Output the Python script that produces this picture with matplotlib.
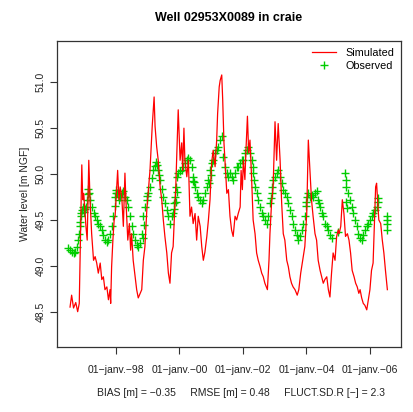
import datetime as dt
import matplotlib
matplotlib.use("Agg")
import matplotlib.pyplot as plt

plt.rcParams['font.family'] = ['Liberation Sans', 'DejaVu Sans']

title = "Well 02953X0089 in craie"
ylabel = "Water level [m NGF]"
stats_text = "BIAS [m] = \u22120.35     RMSE [m] = 0.48     FLUCT.SD.R [\u2212] = 2.3"
legend_labels = ["Simulated", "Observed"]

# Simulated series (decimal year, level m NGF)
sim_t = [1996.55, 1996.60, 1996.66, 1996.73, 1996.79, 1996.84, 1996.92, 1996.95, 1996.98, 1997.05,
         1997.09, 1997.14, 1997.18, 1997.23, 1997.29, 1997.34, 1997.39, 1997.44, 1997.50, 1997.55,
         1997.60, 1997.65, 1997.71, 1997.76, 1997.81, 1997.83, 1997.86, 1997.90, 1997.94, 1997.97,
         1998.00, 1998.05, 1998.09, 1998.13, 1998.18, 1998.23, 1998.28, 1998.31, 1998.37, 1998.42,
         1998.46, 1998.49, 1998.54, 1998.60, 1998.65, 1998.70, 1998.76, 1998.81, 1998.86, 1998.91,
         1998.97, 1999.02, 1999.07, 1999.14, 1999.20, 1999.23, 1999.28, 1999.33, 1999.39, 1999.44,
         1999.49, 1999.54, 1999.60, 1999.65, 1999.70, 1999.75, 1999.80, 1999.84, 1999.88, 1999.91,
         1999.96, 2000.02, 2000.07, 2000.10, 2000.14, 2000.17, 2000.23, 2000.28, 2000.33, 2000.38,
         2000.43, 2000.49, 2000.54, 2000.59, 2000.65, 2000.70, 2000.75, 2000.80, 2000.86, 2000.91,
         2000.96, 2001.01, 2001.06, 2001.12, 2001.17, 2001.20, 2001.25, 2001.28, 2001.33, 2001.36,
         2001.40, 2001.43, 2001.49, 2001.54, 2001.59, 2001.64, 2001.69, 2001.75, 2001.80, 2001.85,
         2001.91, 2001.94, 2001.98, 2002.01, 2002.06, 2002.09, 2002.14, 2002.18, 2002.22, 2002.27,
         2002.32, 2002.38, 2002.43, 2002.48, 2002.54, 2002.59, 2002.64, 2002.69, 2002.77, 2002.82,
         2002.85, 2002.90, 2002.95, 2003.01, 2003.06, 2003.11, 2003.17, 2003.22, 2003.27, 2003.32,
         2003.38, 2003.43, 2003.48, 2003.53, 2003.58, 2003.64, 2003.71, 2003.76, 2003.82, 2003.87,
         2003.92, 2003.95, 2004.01, 2004.06, 2004.11, 2004.16, 2004.21, 2004.27, 2004.32, 2004.37,
         2004.43, 2004.48, 2004.53, 2004.58, 2004.64, 2004.69, 2004.74, 2004.79, 2004.84, 2004.90,
         2004.95, 2005.00, 2005.03, 2005.08, 2005.13, 2005.18, 2005.23, 2005.29, 2005.34, 2005.39,
         2005.44, 2005.50, 2005.55, 2005.60, 2005.65, 2005.69, 2005.74, 2005.79, 2005.84, 2005.90,
         2005.95, 2006.00, 2006.05, 2006.10, 2006.13, 2006.18, 2006.21, 2006.24, 2006.28, 2006.34,
         2006.39, 2006.44, 2006.49, 2006.55]
sim_v = [48.55, 48.68, 48.54, 48.60, 48.50, 48.59, 50.10, 49.72, 49.79, 49.43,
         49.28, 50.15, 49.72, 49.35, 49.06, 49.10, 49.03, 48.92, 49.03, 48.85,
         48.88, 48.74, 48.77, 48.63, 48.74, 48.59, 48.99, 49.28, 49.50, 49.54,
         49.72, 50.04, 49.72, 49.86, 49.75, 49.43, 50.01, 49.72, 49.28, 49.46,
         49.17, 49.35, 49.06, 48.88, 48.74, 48.65, 48.70, 48.74, 49.06, 49.21,
         49.61, 49.83, 50.04, 50.52, 50.84, 50.52, 50.30, 50.15, 49.86, 49.72,
         49.50, 49.32, 49.14, 48.92, 48.81, 49.14, 49.21, 49.54, 49.83, 50.15,
         50.70, 50.15, 50.34, 50.04, 50.50, 50.15, 49.97, 50.15, 49.54, 49.64,
         49.46, 49.57, 49.28, 49.54, 49.43, 49.21, 49.06, 49.15, 49.32, 49.50,
         49.72, 50.12, 50.26, 50.08, 50.37, 50.66, 50.95, 51.02, 51.08, 50.81,
         50.34, 50.15, 49.79, 49.83, 49.54, 49.39, 49.32, 49.54, 49.50, 49.57,
         49.64, 50.04, 49.83, 50.15, 49.94, 50.23, 50.63, 50.23, 50.37, 49.97,
         49.50, 49.35, 49.14, 49.06, 48.99, 48.92, 48.88, 48.81, 48.74, 49.06,
         49.35, 49.68, 49.86, 50.57, 50.15, 50.55, 50.15, 49.68, 49.35, 49.28,
         49.06, 48.99, 48.88, 48.81, 48.77, 48.74, 48.68, 48.74, 48.92, 49.03,
         49.14, 49.21, 49.57, 50.37, 50.04, 49.72, 49.54, 49.35, 49.28, 49.06,
         48.95, 48.88, 48.81, 48.85, 48.88, 48.74, 48.66, 48.92, 49.14, 49.06,
         49.32, 49.39, 49.35, 49.43, 49.72, 49.57, 49.32, 49.35, 49.28, 49.14,
         48.95, 48.88, 48.81, 48.77, 48.70, 48.74, 48.65, 48.59, 48.57, 48.52,
         48.63, 48.74, 48.95, 49.03, 49.35, 49.86, 49.90, 49.72, 49.50, 49.46,
         49.28, 49.14, 48.95, 48.74]

# Observed series (decimal year, level m NGF)
obs_t = [1996.50, 1996.55, 1996.60, 1996.66, 1996.71, 1996.76, 1996.81, 1996.84, 1996.87, 1996.90,
         1996.94, 1996.97, 1997.00, 1997.05, 1997.08, 1997.11, 1997.15, 1997.18, 1997.23, 1997.29,
         1997.34, 1997.39, 1997.44, 1997.50, 1997.55, 1997.60, 1997.65, 1997.71, 1997.76, 1997.81,
         1997.86, 1997.91, 1997.97, 1998.00, 1998.04, 1998.09, 1998.13, 1998.18, 1998.23, 1998.28,
         1998.34, 1998.39, 1998.44, 1998.49, 1998.54, 1998.60, 1998.65, 1998.70, 1998.76, 1998.81,
         1998.86, 1998.91, 1998.97, 1999.02, 1999.07, 1999.17, 1999.26, 1999.33, 1999.39, 1999.44,
         1999.49, 1999.54, 1999.60, 1999.65, 1999.70, 1999.75, 1999.80, 1999.84, 1999.86, 1999.89,
         1999.93, 1999.96, 2000.02, 2000.07, 2000.12, 2000.17, 2000.23, 2000.28, 2000.33, 2000.38,
         2000.43, 2000.49, 2000.54, 2000.59, 2000.65, 2000.70, 2000.75, 2000.80, 2000.86, 2000.91,
         2000.96, 2001.01, 2001.06, 2001.12, 2001.17, 2001.22, 2001.28, 2001.33, 2001.38, 2001.43,
         2001.49, 2001.54, 2001.59, 2001.64, 2001.69, 2001.75, 2001.80, 2001.85, 2001.91, 2001.96,
         2002.01, 2002.06, 2002.12, 2002.17, 2002.22, 2002.27, 2002.32, 2002.38, 2002.43, 2002.48,
         2002.54, 2002.59, 2002.64, 2002.69, 2002.75, 2002.80, 2002.85, 2002.90, 2002.95, 2003.01,
         2003.06, 2003.11, 2003.17, 2003.22, 2003.27, 2003.32, 2003.38, 2003.43, 2003.48, 2003.53,
         2003.58, 2003.64, 2003.69, 2003.74, 2003.80, 2003.85, 2003.90, 2003.95, 2004.01, 2004.06,
         2004.11, 2004.16, 2004.21, 2004.27, 2004.32, 2004.37, 2004.43, 2004.48, 2004.53, 2004.58,
         2004.64, 2004.69, 2004.74, 2004.79, 2005.00, 2005.21, 2005.23, 2005.24, 2005.27, 2005.32,
         2005.37, 2005.42, 2005.47, 2005.53, 2005.58, 2005.63, 2005.69, 2005.74, 2005.79, 2005.84,
         2005.90, 2005.95, 2006.00, 2006.05, 2006.10, 2006.16, 2006.21, 2006.26, 2006.53, 2006.53,
         2006.53,
         1996.86, 1996.89, 1997.03, 1997.10, 1997.97, 1997.99, 1998.84, 1998.88, 1998.99,
         1999.12, 1999.22, 1999.30, 1999.36, 1999.83, 1999.88, 1999.91, 2000.41, 2000.46,
         2000.93, 2000.98, 2002.30, 2002.35, 2002.87, 2002.92, 2003.98, 2004.00, 2004.40,
         2005.26, 2006.24, 2006.53]
obs_v = [49.19, 49.17, 49.15, 49.14, 49.15, 49.21, 49.28, 49.35, 49.43, 49.54,
         49.61, 49.64, 49.59, 49.64, 49.72, 49.84, 49.79, 49.72, 49.64, 49.57,
         49.54, 49.50, 49.46, 49.43, 49.39, 49.34, 49.28, 49.26, 49.28, 49.35,
         49.43, 49.54, 49.75, 49.83, 49.79, 49.72, 49.75, 49.79, 49.81, 49.75,
         49.72, 49.64, 49.54, 49.43, 49.35, 49.28, 49.23, 49.21, 49.25, 49.35,
         49.54, 49.64, 49.72, 49.79, 49.86, 50.04, 50.13, 50.04, 49.94, 49.84,
         49.75, 49.68, 49.61, 49.54, 49.46, 49.54, 49.57, 49.68, 49.75, 49.86,
         49.97, 50.01, 50.03, 50.04, 50.08, 50.12, 50.15, 50.17, 50.15, 50.08,
         49.97, 49.86, 49.79, 49.75, 49.72, 49.68, 49.72, 49.79, 49.86, 49.94,
         50.04, 50.12, 50.15, 50.23, 50.26, 50.30, 50.37, 50.41, 50.19, 50.08,
         50.01, 49.97, 50.01, 49.97, 49.94, 50.01, 50.08, 50.08, 50.12, 50.15,
         50.15, 50.23, 50.26, 50.30, 50.23, 50.15, 50.01, 49.86, 49.79, 49.72,
         49.64, 49.57, 49.54, 49.50, 49.46, 49.54, 49.68, 49.79, 49.94, 49.97,
         50.01, 50.04, 49.97, 49.90, 49.83, 49.79, 49.75, 49.68, 49.61, 49.54,
         49.46, 49.39, 49.34, 49.28, 49.32, 49.39, 49.46, 49.54, 49.75, 49.79,
         49.75, 49.77, 49.75, 49.79, 49.81, 49.72, 49.64, 49.57, 49.54, 49.46,
         49.43, 49.39, 49.34, 49.30, 49.37, 50.01, 49.94, 49.86, 49.63, 49.79,
         49.72, 49.64, 49.57, 49.50, 49.43, 49.35, 49.30, 49.28, 49.34, 49.39,
         49.43, 49.46, 49.50, 49.54, 49.57, 49.61, 49.64, 49.74, 49.54, 49.46,
         49.39,
         49.48, 49.58, 49.62, 49.78, 49.65, 49.79, 49.30, 49.45, 49.76,
         49.96, 50.09, 50.10, 49.99, 49.62, 49.70, 49.80, 49.92, 49.91,
         49.90, 49.99, 50.08, 49.93, 49.74, 49.86, 49.65, 49.70, 49.68,
         49.70, 49.69, 49.50]

xtick_years = [1998, 2000, 2002, 2004, 2006]
xtick_labels = ["01\u2212janv.\u221298", "01\u2212janv.\u221200", "01\u2212janv.\u221202",
                "01\u2212janv.\u221204", "01\u2212janv.\u221206"]
yticks = [48.5, 49.0, 49.5, 50.0, 50.5, 51.0]
xlim_years = (1996.14, 2006.98)
ylim = (48.115, 51.45)


def to_date(y):
    yr = int(y)
    start = dt.datetime(yr, 1, 1)
    end = dt.datetime(yr + 1, 1, 1)
    return start + (end - start) * (y - yr)


fig = plt.figure(figsize=(4.14, 4.12), dpi=100)
ax = fig.add_axes([57 / 414, 1 - 347 / 412, (401 - 57) / 414, (347 - 41) / 412])

ax.plot([to_date(t) for t in sim_t], sim_v, color='#FF0000', lw=0.9, label=legend_labels[0], zorder=3)
ax.plot([to_date(t) for t in obs_t], obs_v, linestyle='none', marker='+', color='#00CD00',
        markersize=5.5, markeredgewidth=1.0, label=legend_labels[1], zorder=2)

ax.set_xlim(to_date(xlim_years[0]), to_date(xlim_years[1]))
ax.set_ylim(*ylim)
ax.set_xticks([dt.datetime(y, 1, 1) for y in xtick_years])
ax.set_xticklabels(xtick_labels)
ax.set_yticks(yticks)
ax.set_yticklabels([f"{v:.1f}" for v in yticks], rotation=90, va='center')
ax.tick_params(axis='both', labelsize=7.5, length=5, width=0.8, color='#333333', labelcolor='#222222')
ax.tick_params(axis='x', pad=8)
ax.tick_params(axis='y', pad=3)
for s in ax.spines.values():
    s.set_linewidth(0.9)
    s.set_color('#333333')

ax.set_ylabel(ylabel, fontsize=7.5, color='#222222', labelpad=4)
fig.text(229 / 414, 1 - 18 / 412, title, ha='center', va='center', fontsize=9, fontweight='bold')
fig.text(241 / 414, 1 - 393 / 412, stats_text, ha='center', va='center', fontsize=7.5, color='#222222')

leg = ax.legend(loc='upper right', frameon=False, fontsize=7.8, handlelength=2.2,
                borderaxespad=0.2, labelspacing=0.3, handletextpad=0.9)

fig.savefig("out.png", dpi=100)
